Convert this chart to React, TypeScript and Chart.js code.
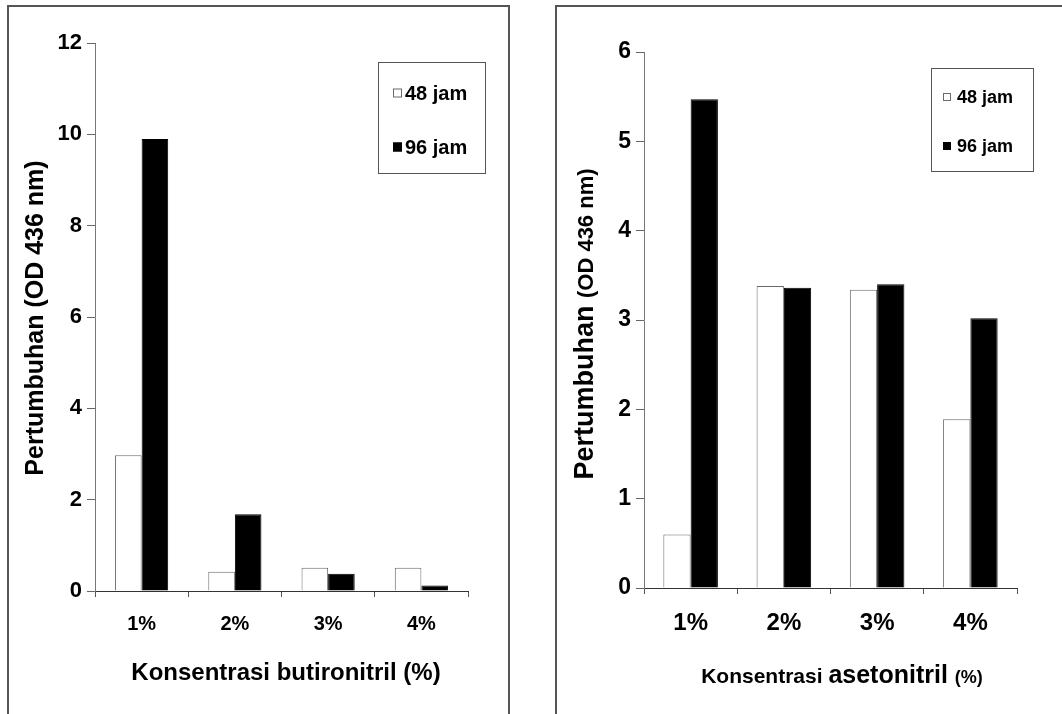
import React, { useEffect, useRef } from 'react';
import { Chart, registerables } from 'chart.js';

Chart.register(...registerables);

const FONT = '"Liberation Sans", Arial, Helvetica, sans-serif';

// Shared categories and series names
const categories = ['1%', '2%', '3%', '4%'];
const seriesLabels = ['48 jam', '96 jam'];

// Growth (OD 436 nm) in butyronitrile
const butironitril48 = [2.97, 0.42, 0.51, 0.51];
const butironitril96 = [9.9, 1.68, 0.38, 0.12];

// Growth (OD 436 nm) in acetonitrile
const asetonitril48 = [0.6, 3.38, 3.34, 1.89];
const asetonitril96 = [5.47, 3.36, 3.4, 3.02];

// Axis ranges
const butironitrilYMax = 12;
const butironitrilYStep = 2;
const asetonitrilYMax = 6;
const asetonitrilYStep = 1;

type Seg = { text: string; size: number };

type PanelDecor = {
  yTitle: { x: number; y: number; segs: Seg[] };
  xTitle: { x: number; y: number; segs: Seg[] };
  legend: {
    box: [number, number, number, number];
    markerX: number;
    markerSize: number;
    textX: number;
    rows: number[];
    fontSize: number;
  };
};

const segWidth = (ctx: CanvasRenderingContext2D, segs: Seg[]) =>
  segs.reduce((w, s) => {
    ctx.font = `bold ${s.size}px ${FONT}`;
    return w + ctx.measureText(s.text).width;
  }, 0);

const decorPlugin = {
  id: 'panelDecor',
  afterDraw(chart: any, _args: any, opts: PanelDecor) {
    const ctx: CanvasRenderingContext2D = chart.ctx;
    if (!opts || !opts.yTitle) return;
    ctx.save();
    ctx.fillStyle = '#000';
    ctx.textBaseline = 'alphabetic';
    ctx.textAlign = 'left';

    // rotated y-axis title
    {
      const { x, y, segs } = opts.yTitle;
      const total = segWidth(ctx, segs);
      const maxSize = Math.max(...segs.map((s) => s.size));
      ctx.save();
      ctx.translate(x, y);
      ctx.rotate(-Math.PI / 2);
      let cx = -total / 2;
      const base = maxSize * 0.36;
      for (const s of segs) {
        ctx.font = `bold ${s.size}px ${FONT}`;
        ctx.fillText(s.text, cx, base);
        cx += ctx.measureText(s.text).width;
      }
      ctx.restore();
    }

    // x-axis title
    {
      const { x, y, segs } = opts.xTitle;
      const total = segWidth(ctx, segs);
      let cx = x - total / 2;
      for (const s of segs) {
        ctx.font = `bold ${s.size}px ${FONT}`;
        ctx.fillText(s.text, cx, y);
        cx += ctx.measureText(s.text).width;
      }
    }

    // legend box
    {
      const lg = opts.legend;
      const [bx, by, bw, bh] = lg.box;
      ctx.fillStyle = '#fff';
      ctx.fillRect(bx, by, bw, bh);
      ctx.strokeStyle = '#555';
      ctx.lineWidth = 1;
      ctx.strokeRect(bx + 0.5, by + 0.5, bw, bh);
      chart.data.datasets.forEach((ds: any, i: number) => {
        const cy = lg.rows[i];
        const m = lg.markerSize;
        ctx.fillStyle = ds.backgroundColor;
        ctx.fillRect(lg.markerX, cy - m / 2, m, m);
        ctx.strokeStyle = ds.borderColor;
        ctx.strokeRect(lg.markerX + 0.5, cy - m / 2 + 0.5, m - 1, m - 1);
        ctx.fillStyle = '#000';
        ctx.font = `bold ${lg.fontSize}px ${FONT}`;
        ctx.textBaseline = 'middle';
        ctx.fillText(ds.label, lg.textX, cy + 1);
      });
    }
    ctx.restore();
  },
};

type PanelProps = {
  left: number;
  top: number;
  width: number;
  height: number;
  s48: number[];
  s96: number[];
  yMax: number;
  yStep: number;
  yAxisWidth: number;
  xAxisHeight: number;
  padTop: number;
  padRight: number;
  yTickSize: number;
  xTickSize: number;
  xTickPad: number;
  barFrac: number;
  decor: PanelDecor;
};

function Panel(p: PanelProps) {
  const ref = useRef<HTMLCanvasElement | null>(null);

  useEffect(() => {
    if (!ref.current) return;
    const chart = new Chart(ref.current, {
      type: 'bar',
      data: {
        labels: categories,
        datasets: [
          {
            label: seriesLabels[0],
            data: p.s48,
            backgroundColor: '#ffffff',
            borderColor: '#6a6a6a',
            borderWidth: 1,
            categoryPercentage: p.barFrac,
            barPercentage: 1,
          },
          {
            label: seriesLabels[1],
            data: p.s96,
            backgroundColor: '#000000',
            borderColor: '#000000',
            borderWidth: 1,
            categoryPercentage: p.barFrac,
            barPercentage: 1,
          },
        ],
      },
      options: {
        responsive: false,
        animation: false,
        devicePixelRatio: 1,
        layout: { padding: { top: p.padTop, right: p.padRight, left: 0, bottom: 0 } },
        plugins: {
          legend: { display: false },
          tooltip: { enabled: false },
          title: { display: false },
          panelDecor: p.decor,
        } as any,
        scales: {
          x: {
            grid: {
              offset: true,
              drawOnChartArea: false,
              drawTicks: true,
              tickLength: 6,
              color: '#555',
            },
            border: { color: '#333', width: 1 },
            ticks: {
              color: '#000',
              padding: p.xTickPad,
              font: { family: FONT, size: p.xTickSize, weight: 'bold' },
              maxRotation: 0,
            },
            afterFit: (s: any) => {
              s.height = p.xAxisHeight;
            },
          },
          y: {
            min: 0,
            max: p.yMax,
            grid: {
              drawOnChartArea: false,
              drawTicks: true,
              tickLength: 8,
              color: '#666',
            },
            border: { color: '#777', width: 1 },
            ticks: {
              stepSize: p.yStep,
              color: '#000',
              padding: 5,
              font: { family: FONT, size: p.yTickSize, weight: 'bold' },
            },
            afterFit: (s: any) => {
              s.width = p.yAxisWidth;
            },
          },
        },
      } as any,
      plugins: [decorPlugin],
    });
    return () => chart.destroy();
  }, []);

  return (
    <canvas
      ref={ref}
      width={p.width}
      height={p.height}
      style={{
        position: 'absolute',
        left: p.left,
        top: p.top,
        width: p.width,
        height: p.height,
        display: 'block',
      }}
    />
  );
}

export default function App() {
  return (
    <div
      style={{
        position: 'absolute',
        left: 0,
        top: 0,
        width: 1062,
        height: 714,
        overflow: 'hidden',
        background: '#fff',
      }}
    >
      <div
        style={{
          position: 'absolute',
          left: 7,
          top: 5,
          width: 503,
          height: 760,
          border: '2px solid #555',
          boxSizing: 'border-box',
        }}
      />
      <div
        style={{
          position: 'absolute',
          left: 555,
          top: 5,
          width: 560,
          height: 760,
          border: '2px solid #555',
          boxSizing: 'border-box',
        }}
      />
      <Panel
        left={9}
        top={7}
        width={497}
        height={707}
        s48={butironitril48}
        s96={butironitril96}
        yMax={butironitrilYMax}
        yStep={butironitrilYStep}
        yAxisWidth={86}
        xAxisHeight={123}
        padTop={36}
        padRight={38}
        yTickSize={22}
        xTickSize={20}
        xTickPad={15}
        barFrac={0.57}
        decor={{
          yTitle: {
            x: 25,
            y: 311,
            segs: [{ text: 'Pertumbuhan (OD 436 nm)', size: 25 }],
          },
          xTitle: {
            x: 277,
            y: 673,
            segs: [{ text: 'Konsentrasi butironitril (%)', size: 24 }],
          },
          legend: {
            box: [369, 55, 107, 111],
            markerX: 384,
            markerSize: 9,
            textX: 396,
            rows: [86, 140],
            fontSize: 20,
          },
        }}
      />
      <Panel
        left={557}
        top={7}
        width={505}
        height={707}
        s48={asetonitril48}
        s96={asetonitril96}
        yMax={asetonitrilYMax}
        yStep={asetonitrilYStep}
        yAxisWidth={87}
        xAxisHeight={126}
        padTop={45}
        padRight={45}
        yTickSize={23}
        xTickSize={24}
        xTickPad={15}
        barFrac={0.585}
        decor={{
          yTitle: {
            x: 26,
            y: 317,
            segs: [
              { text: 'Pertumbuhan ', size: 27 },
              { text: '(OD 436 nm)', size: 22 },
            ],
          },
          xTitle: {
            x: 285,
            y: 676,
            segs: [
              { text: 'Konsentrasi ', size: 21 },
              { text: 'asetonitril ', size: 25 },
              { text: '(%)', size: 18 },
            ],
          },
          legend: {
            box: [374, 61, 102, 103],
            markerX: 386,
            markerSize: 8,
            textX: 400,
            rows: [90, 139],
            fontSize: 18,
          },
        }}
      />
    </div>
  );
}
